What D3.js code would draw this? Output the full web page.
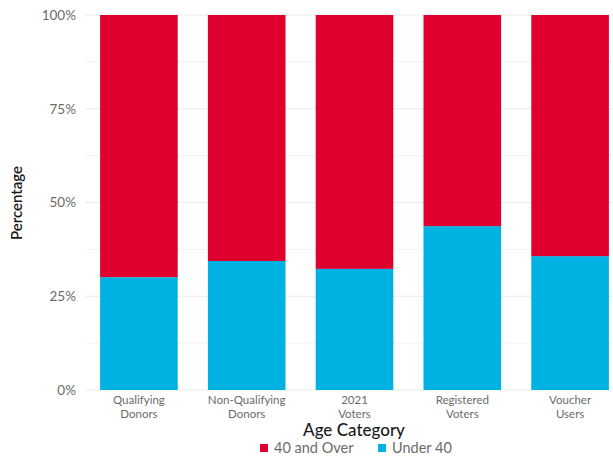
<!DOCTYPE html>
<html>
<head>
<meta charset="utf-8">
<script src="https://cdn.jsdelivr.net/npm/d3@7"></script>
<style>
  html, body { margin: 0; padding: 0; background: #fff; }
  svg { display: block; }
</style>
</head>
<body>
<svg id="chart" width="613" height="460"></svg>
<script>
// Age composition of each group (share of people under 40, in %)
const categories = [
  ["Qualifying", "Donors"],
  ["Non-Qualifying", "Donors"],
  ["2021", "Voters"],
  ["Registered", "Voters"],
  ["Voucher", "Users"]
];
const under40 = [30.1, 34.4, 32.3, 43.7, 35.7];
const over40 = under40.map(v => 100 - v);
const seriesNames = ["40 and Over", "Under 40"];
const seriesColors = ["#e00030", "#00b2e2"];
const yTicks = [0, 25, 50, 75, 100];
const yMinor = [12.5, 37.5, 62.5, 87.5];

const svg = d3.select("#chart");
const font = "Lato, 'Open Sans', sans-serif";

const plot = { left: 85, right: 613, top: 15, bottom: 390 };

const keys = categories.map(c => c.join(" "));
const x = d3.scaleBand()
  .domain(keys)
  .range([plot.left, 624])
  .paddingInner(0.28)
  .paddingOuter(0.14);

const y = d3.scaleLinear().domain([0, 100]).range([plot.bottom, plot.top]);

// gridlines
const grid = svg.append("g");
grid.selectAll("line.minor").data(yMinor).join("line")
  .attr("x1", plot.left).attr("x2", plot.right)
  .attr("y1", d => y(d)).attr("y2", d => y(d))
  .attr("stroke", "#f2f2f2").attr("stroke-width", 1);
grid.selectAll("line.major").data(yTicks).join("line")
  .attr("x1", plot.left).attr("x2", plot.right)
  .attr("y1", d => y(d)).attr("y2", d => y(d))
  .attr("stroke", "#ebebeb").attr("stroke-width", 1.2);

// stacked bars
const rows = keys.map((k, i) => ({ key: k, "Under 40": under40[i], "40 and Over": over40[i] }));
const stack = d3.stack().keys(["Under 40", "40 and Over"])(rows);
const color = d3.scaleOrdinal().domain(seriesNames).range(seriesColors);

svg.append("g").selectAll("g").data(stack).join("g")
  .attr("fill", d => color(d.key))
  .selectAll("rect").data(d => d).join("rect")
  .attr("x", d => x(d.data.key))
  .attr("width", x.bandwidth())
  .attr("y", d => y(d[1]))
  .attr("height", d => y(d[0]) - y(d[1]));

// y axis labels
const yAxis = svg.append("g")
  .attr("transform", `translate(${plot.left},0)`)
  .call(d3.axisLeft(y).tickValues(yTicks).tickFormat(d => d + "%").tickSize(0).tickPadding(9));
yAxis.select(".domain").remove();
yAxis.selectAll("text")
  .attr("font-family", font).attr("font-size", 13.5).attr("fill", "#6b6b6b");

// x axis labels (two lines)
const xAxis = svg.append("g")
  .attr("transform", `translate(0,${plot.bottom})`)
  .call(d3.axisBottom(x).tickSize(0).tickFormat(() => ""));
xAxis.select(".domain").remove();
xAxis.selectAll(".tick text").remove();
xAxis.selectAll(".tick").each(function(d, i) {
  const t = d3.select(this).append("text")
    .attr("text-anchor", "middle")
    .attr("font-family", font).attr("font-size", 11.5).attr("fill", "#6b6b6b");
  categories[i].forEach((line, j) => {
    t.append("tspan").attr("x", 0).attr("y", 14 + j * 13.5).text(line);
  });
});

// axis titles
svg.append("text")
  .attr("x", 354).attr("y", 436)
  .attr("text-anchor", "middle")
  .attr("font-family", font).attr("font-size", 17).attr("font-weight", 500)
  .attr("fill", "#1a1a1a")
  .text("Age Category");

svg.append("text")
  .attr("transform", "translate(22,203) rotate(-90)")
  .attr("text-anchor", "middle")
  .attr("font-family", font).attr("font-size", 15).attr("font-weight", 600)
  .attr("fill", "#1a1a1a")
  .text("Percentage");

// legend
const legendItems = [
  { name: seriesNames[0], x: 260 },
  { name: seriesNames[1], x: 378 }
];
const lg = svg.append("g").selectAll("g").data(legendItems).join("g")
  .attr("transform", d => `translate(${d.x},444)`);
lg.append("rect").attr("width", 8).attr("height", 8)
  .attr("fill", d => color(d.name));
lg.append("text")
  .attr("x", 14).attr("y", 8.5)
  .attr("font-family", font).attr("font-size", 14.5).attr("fill", "#6b6b6b")
  .text(d => d.name);
</script>
</body>
</html>
